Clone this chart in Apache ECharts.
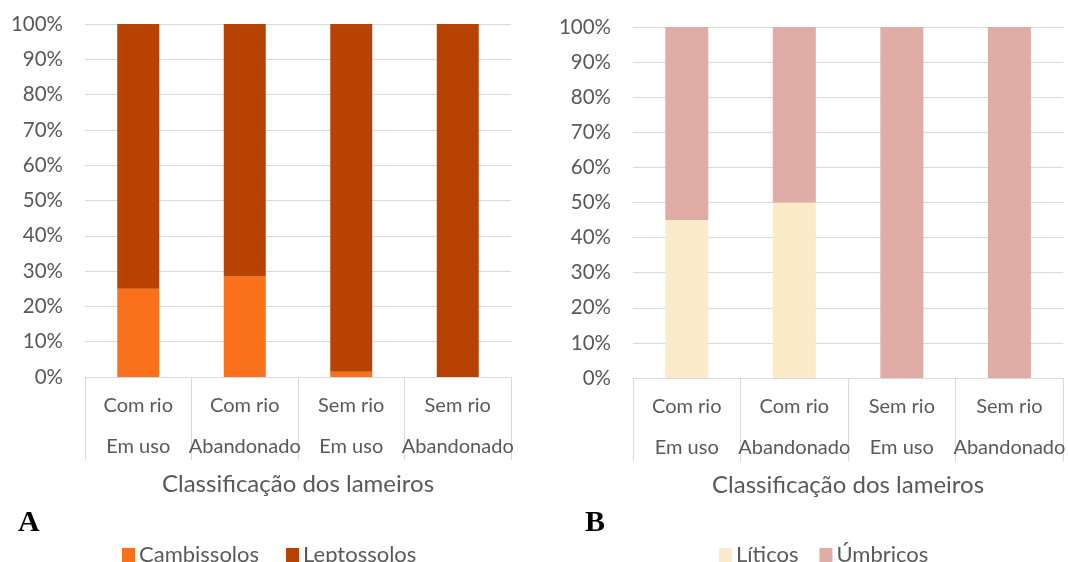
<!DOCTYPE html>
<html><head><meta charset="utf-8">
<script src="https://cdn.jsdelivr.net/npm/echarts@6/dist/echarts.min.js"></script>
<style>html,body{margin:0;padding:0;background:#fff}#c{width:1068px;height:562px}</style>
</head><body><div id="c"></div>
<script>
const categories = ['Com rio\nEm uso', 'Com rio\nAbandonado', 'Sem rio\nEm uso', 'Sem rio\nAbandonado'];
const yTicks = [0,10,20,30,40,50,60,70,80,90,100];
const cambissolos = [25, 28.5, 1.5, 0];
const leptossolos = [75, 71.5, 98.5, 100];
const liticos = [45, 50, 0, 0];
const umbricos = [55, 50, 100, 100];
const axisTitle = 'Classificação dos lameiros';

const FONT = 'Lato';
const TXT = '#595959';
const GRID = '#d9d9d9';

function xAxis(i){
  return {type:'category', gridIndex:i, data:categories,
    axisLine:{lineStyle:{color:GRID}},
    axisTick:{show:true, length:83, lineStyle:{color:GRID}},
    axisLabel:{color:TXT, fontFamily:FONT, fontSize:20, lineHeight:41, margin:8, interval:0},
    name:axisTitle, nameLocation:'middle', nameGap:92,
    nameTextStyle:{color:TXT, fontFamily:FONT, fontSize:24}};
}
function yAxis(i){
  return {type:'value', gridIndex:i, min:yTicks[0], max:yTicks[yTicks.length-1], interval:10,
    axisLine:{show:false}, axisTick:{show:false},
    splitLine:{lineStyle:{color:GRID}},
    axisLabel:{color:TXT, fontFamily:FONT, fontSize:20.5, margin:22, formatter:'{value}%'}};
}
const chart = echarts.init(document.getElementById('c'));
chart.setOption({
  animation:false,
  grid:[{left:85, right:1068-511, top:24, height:353},
        {left:633, right:2, top:27, height:351}],
  xAxis:[xAxis(0), xAxis(1)],
  yAxis:[yAxis(0), yAxis(1)],
  legend:[
    {data:['Cambissolos','Leptossolos'], left:117, top:539, icon:'rect', itemWidth:13, itemHeight:14, itemGap:27,
     textStyle:{color:TXT, fontFamily:FONT, fontSize:22, padding:[0,0,0,-1]}},
    {data:['Líticos','Úmbricos'], left:714, top:539, icon:'rect', itemWidth:13, itemHeight:14, itemGap:21,
     textStyle:{color:TXT, fontFamily:FONT, fontSize:22, padding:[0,0,0,-1]}}
  ],
  graphic:[
    {type:'text', left:18, top:508, style:{text:'A', font:'bold 30px "Liberation Serif"', fill:'#000'}},
    {type:'text', left:585, top:508, style:{text:'B', font:'bold 30px "Liberation Serif"', fill:'#000'}}
  ],
  series:[
    {name:'Cambissolos', type:'bar', stack:'a', xAxisIndex:0, yAxisIndex:0, data:cambissolos, barWidth:42, itemStyle:{color:'#FB711B'}},
    {name:'Leptossolos', type:'bar', stack:'a', xAxisIndex:0, yAxisIndex:0, data:leptossolos, barWidth:42, itemStyle:{color:'#B74201'}},
    {name:'Líticos', type:'bar', stack:'b', xAxisIndex:1, yAxisIndex:1, data:liticos, barWidth:43, itemStyle:{color:'#FCEBC9'}},
    {name:'Úmbricos', type:'bar', stack:'b', xAxisIndex:1, yAxisIndex:1, data:umbricos, barWidth:43, itemStyle:{color:'#DFACA6'}}
  ]
});
</script></body></html>
